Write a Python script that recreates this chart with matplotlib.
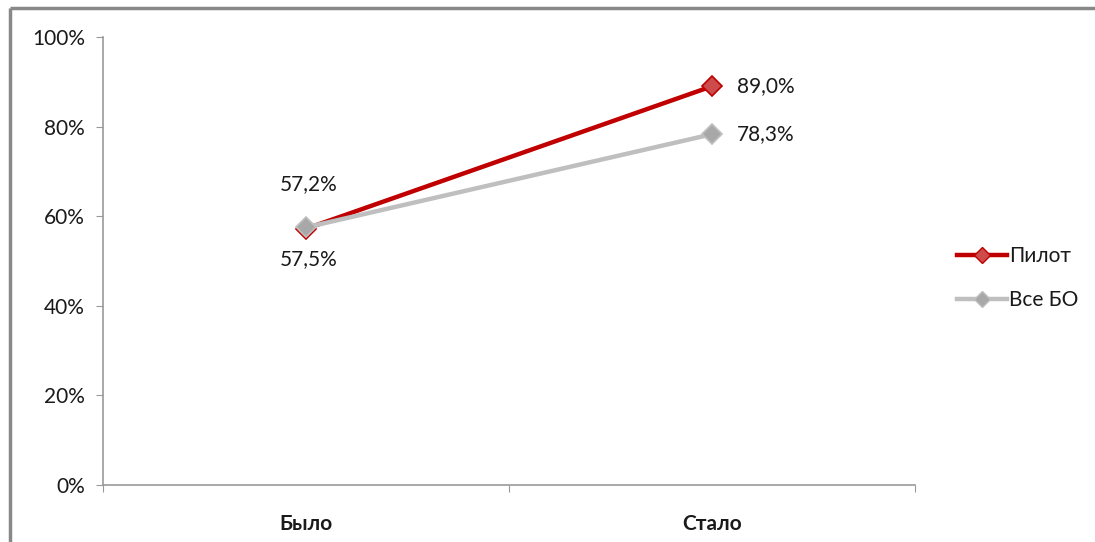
import matplotlib
matplotlib.use("Agg")
import matplotlib.pyplot as plt
from matplotlib.lines import Line2D

categories = ["Было", "Стало"]
pilot = [57.2, 89.0]
all_bo = [57.5, 78.3]
series_names = ["Пилот", "Все БО"]
y_ticks = [0, 20, 40, 60, 80, 100]

plt.rcParams['font.family'] = ['Lato', 'DejaVu Sans']

fig = plt.figure(figsize=(10.95, 5.42), dpi=100)
ax = fig.add_axes([103 / 1095, 57 / 542, 812 / 1095, 448 / 542])

x = list(range(len(categories)))

red_line = "#C00000"
red_face = "#CD4B4B"
gray_line = "#BFBFBF"
gray_face = "#A8A8A8"
text_color = "#1a1a1a"

ax.plot(x, pilot, color=red_line, lw=3.2, marker="D", ms=10,
        mfc=red_face, mec=red_line, mew=1.2, zorder=3, solid_capstyle="round")
ax.plot(x, all_bo, color=gray_line, lw=3.2, marker="D", ms=10,
        mfc=gray_face, mec=gray_line, mew=1.2, zorder=4, solid_capstyle="round")

def fmt(v):
    return f"{v:.1f}%".replace(".", ",")

# value labels
fs = 15
ax.annotate(fmt(pilot[0]), (x[0], pilot[0]), xytext=(2, 32), textcoords="offset points",
            ha="center", va="center", fontsize=fs, color=text_color)
ax.annotate(fmt(all_bo[0]), (x[0], all_bo[0]), xytext=(2, -23), textcoords="offset points",
            ha="center", va="center", fontsize=fs, color=text_color)
ax.annotate(fmt(pilot[1]), (x[1], pilot[1]), xytext=(18, 0), textcoords="offset points",
            ha="left", va="center", fontsize=fs, color=text_color)
ax.annotate(fmt(all_bo[1]), (x[1], all_bo[1]), xytext=(18, 0), textcoords="offset points",
            ha="left", va="center", fontsize=fs, color=text_color)

ax.set_xlim(-0.5, len(categories) - 0.5)
ax.set_ylim(0, 100)
ax.set_yticks(y_ticks)
ax.set_yticklabels([f"{t}%" for t in y_ticks], fontsize=fs, color=text_color)
ax.set_xticks([i - 0.5 for i in range(len(categories) + 1)])
ax.set_xticklabels([])
ax.set_xticks(x, minor=True)
ax.set_xticklabels(categories, minor=True, fontsize=15, fontweight="bold", color=text_color)
ax.tick_params(axis="x", which="minor", length=0, pad=21)
ax.tick_params(axis="x", which="major", length=5, direction="out", color="#999999")
ax.tick_params(axis="y", length=5, direction="out", color="#999999", pad=8)

for s in ["top", "right"]:
    ax.spines[s].set_visible(False)
for s in ["left", "bottom"]:
    ax.spines[s].set_color("#999999")
    ax.spines[s].set_linewidth(1.2)

handles = [
    Line2D([], [], color=red_line, lw=3.2, marker="D", ms=8, mfc=red_face, mec=red_line),
    Line2D([], [], color=gray_line, lw=3.2, marker="D", ms=8, mfc=gray_face, mec=gray_line),
]
fig.legend(handles, series_names, loc="center left", bbox_to_anchor=(938 / 1095, 264 / 542),
           frameon=False, fontsize=fs, handlelength=2.4, handletextpad=0.1,
           labelspacing=1.15, labelcolor=text_color)

# frame lines along top and left edges
fig.add_artist(Line2D([10 / 1095, 1.01], [1 - 8 / 542, 1 - 8 / 542], color="#888888", lw=2.5,
                      transform=fig.transFigure, solid_capstyle="butt"))
fig.add_artist(Line2D([10 / 1095, 10 / 1095], [-0.01, 1 - 8 / 542], color="#888888", lw=2.5,
                      transform=fig.transFigure, solid_capstyle="butt"))

fig.savefig("out.png", dpi=100, facecolor="white")
